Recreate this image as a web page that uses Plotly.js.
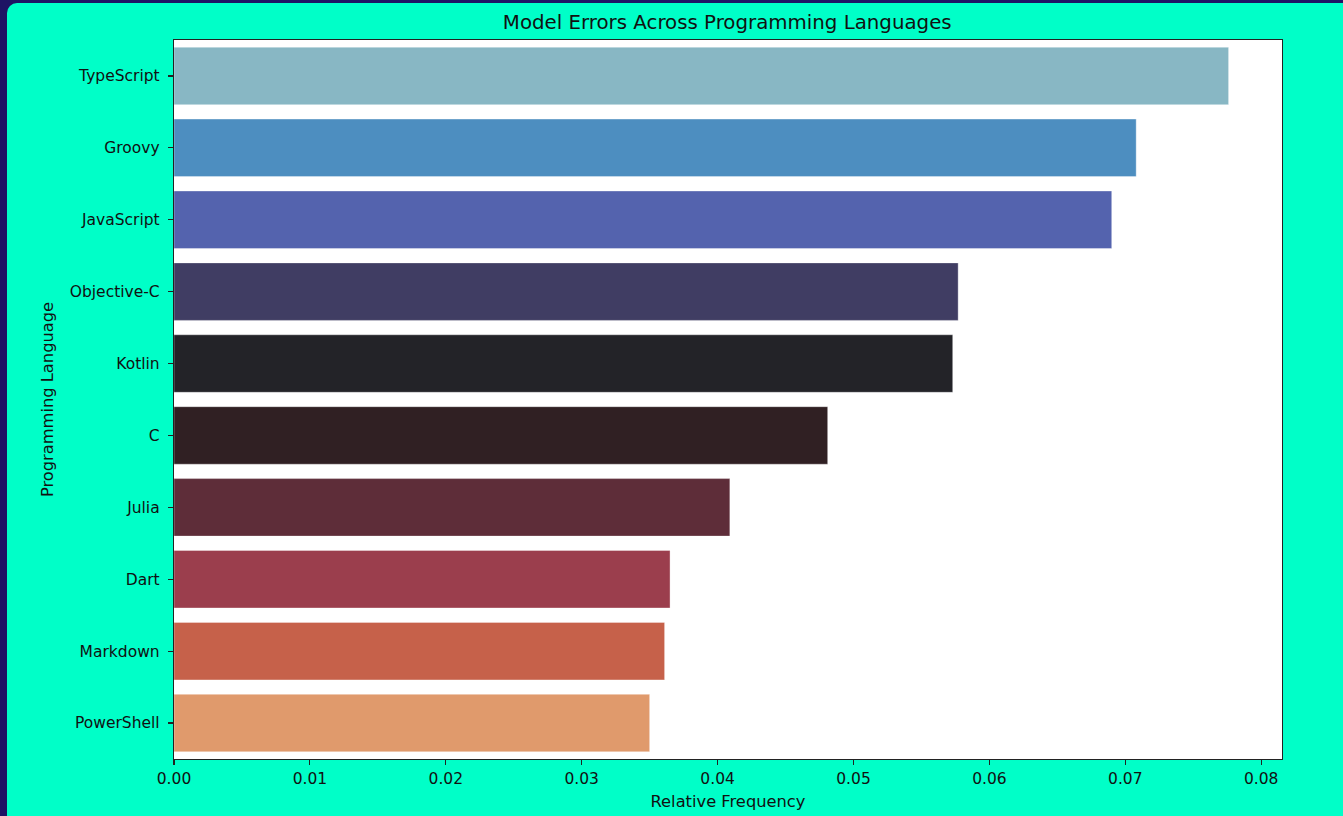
<!DOCTYPE html>
<html>
<head>
<meta charset="utf-8">
<script src="https://cdn.plot.ly/plotly-3.0.1.min.js"></script>
<style>
  html, body { margin: 0; padding: 0; background: #1e1464; overflow: hidden; }
  #wrap { position: relative; width: 1343px; height: 816px; }
  #bg { position: absolute; left: 7px; top: 3px; right: 0; bottom: 0; background: #00ffc8; border-top-left-radius: 10px; }
  #chart { position: absolute; left: 0; top: 0; width: 1343px; height: 816px; }
</style>
</head>
<body>
<div id="wrap"><div id="bg"></div><div id="chart"></div></div>
<script>
const languages = ["TypeScript", "Groovy", "JavaScript", "Objective-C", "Kotlin", "C", "Julia", "Dart", "Markdown", "PowerShell"];
const frequencies = [0.0776, 0.0708, 0.0690, 0.0577, 0.0573, 0.0481, 0.0409, 0.0365, 0.0361, 0.0350];
const barColors = ["#88b7c4", "#4d8ec0", "#5463ae", "#403d63", "#232328", "#302023", "#5e2d39", "#9b3e4d", "#c6614a", "#e09a6c"];
const xTickVals = [0, 0.01, 0.02, 0.03, 0.04, 0.05, 0.06, 0.07, 0.08];
const xTickText = ["0.00", "0.01", "0.02", "0.03", "0.04", "0.05", "0.06", "0.07", "0.08"];

const font = { family: "DejaVu Sans, sans-serif", color: "#111111" };

const trace = {
  type: "bar",
  orientation: "h",
  y: languages,
  x: frequencies,
  marker: { color: barColors, line: { color: "rgba(255,255,255,0.35)", width: 1 } },
  width: 0.8,
  hoverinfo: "x+y"
};

const layout = {
  width: 1343,
  height: 816,
  paper_bgcolor: "rgba(0,0,0,0)",
  plot_bgcolor: "#ffffff",
  margin: { l: 174, r: 61, t: 40, b: 57, pad: 0 },
  showlegend: false,
  font: Object.assign({ size: 15.5 }, font),
  title: {
    text: "Model Errors Across Programming Languages",
    font: Object.assign({ size: 19.8 }, font),
    x: 0.5415, xanchor: "center", y: 0.973, yanchor: "middle"
  },
  xaxis: {
    range: [0, 0.08153],
    tickvals: xTickVals,
    ticktext: xTickText,
    ticks: "outside", ticklen: 5, tickwidth: 1.2, tickcolor: "#222",
    showgrid: false, zeroline: false,
    showline: true, mirror: true, linecolor: "#222", linewidth: 1.3,
    tickfont: Object.assign({ size: 15.5 }, font),
    title: { text: "Relative Frequency", font: Object.assign({ size: 16.3 }, font), standoff: 8 }
  },
  yaxis: {
    categoryorder: "array",
    categoryarray: languages,
    autorange: "reversed",
    range: [9.5, -0.5],
    ticks: "outside", ticklen: 5, tickwidth: 1.2, tickcolor: "#222",
    showgrid: false, zeroline: false,
    showline: true, mirror: true, linecolor: "#222", linewidth: 1.3,
    tickfont: Object.assign({ size: 15.5 }, font),
    ticksuffix: " ",
    title: { text: "Programming Language", font: Object.assign({ size: 16.3 }, font), standoff: 12 }
  }
};

Plotly.newPlot("chart", [trace], layout, { displayModeBar: false, staticPlot: true });
</script>
</body>
</html>
